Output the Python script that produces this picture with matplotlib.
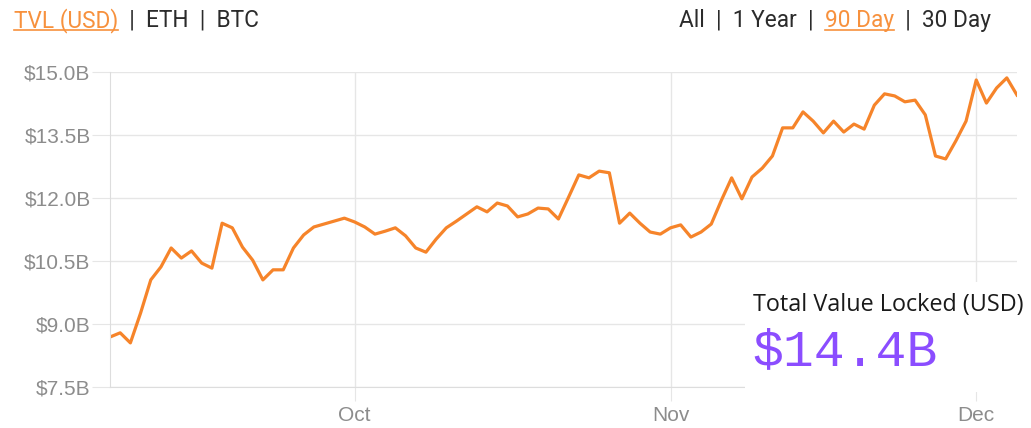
import matplotlib
matplotlib.use("Agg")
import matplotlib.pyplot as plt
from matplotlib.lines import Line2D
from matplotlib.patches import Rectangle
import pandas as pd

# daily TVL, 90 days (billions USD)
dates = pd.date_range("2020-09-07", periods=90, freq="D")
tvl = [8.69, 8.79, 8.55, 9.26, 10.05, 10.36, 10.81, 10.57, 10.74, 10.45,
       10.33, 11.40, 11.29, 10.83, 10.52, 10.05, 10.29, 10.29, 10.81, 11.12,
       11.31, 11.38, 11.45, 11.52, 11.43, 11.31, 11.14, 11.21, 11.29, 11.10,
       10.81, 10.71, 11.02, 11.29, 11.45, 11.62, 11.79, 11.67, 11.88, 11.81,
       11.55, 11.62, 11.76, 11.74, 11.50, 12.02, 12.55, 12.48, 12.64, 12.60,
       11.40, 11.64, 11.40, 11.19, 11.14, 11.29, 11.36, 11.07, 11.19, 11.38,
       11.95, 12.48, 11.98, 12.50, 12.71, 13.00, 13.67, 13.67, 14.05, 13.83,
       13.55, 13.83, 13.57, 13.76, 13.64, 14.21, 14.48, 14.43, 14.29, 14.33,
       13.98, 13.00, 12.93, 13.36, 13.83, 14.81, 14.26, 14.62, 14.86, 14.45]
y_ticks = [7.5, 9.0, 10.5, 12.0, 13.5, 15.0]
month_ticks = pd.to_datetime(["2020-10-01", "2020-11-01", "2020-12-01"])
month_labels = ["Oct", "Nov", "Dec"]
current_value = "$14.4B"

ORANGE = "#f6842a"
LINK = "#f7913d"
DARK = "#2b2b2b"
PURPLE = "#8b4dff"
GRID = "#e6e6e6"

W, H = 1031, 428
fig = plt.figure(figsize=(W / 100, H / 100), dpi=100)
ax = fig.add_axes([110 / W, 1 - 387 / H, 907 / W, 315 / H])

ax.plot(dates, tvl, color=ORANGE, lw=2.3)
ax.set_xlim(dates[0], dates[-1])
ax.set_ylim(7.5, 15.0)

ax.set_yticks(y_ticks)
ax.set_yticklabels([f"${v:.1f}B" for v in y_ticks], family="Liberation Sans", fontsize=15)
ax.set_xticks(month_ticks)
ax.set_xticklabels(month_labels, family="Liberation Sans", fontsize=15)
ax.grid(color=GRID, lw=1)
ax.set_axisbelow(True)
for side in ["top", "right"]:
    ax.spines[side].set_visible(False)
for side in ["left", "bottom"]:
    ax.spines[side].set_color("#dddddd")
ax.tick_params(axis="y", color=GRID, length=13, pad=1, labelcolor="#8c8c8c")
ax.tick_params(axis="x", color=GRID, length=10, pad=4, labelcolor="#8c8c8c")

# white panel behind the current value
fig.add_artist(Rectangle((745 / W, 1 - 392 / H), (W - 745) / W, (392 - 282) / H,
                         transform=fig.transFigure, fc="white", ec="none", zorder=5))
fig.text(753 / W, 1 - 311 / H, "Total Value Locked (USD)", fontsize=16.8,
         family="Open Sans", color="#1a1a1a", zorder=6)
fig.text(752 / W, 1 - 365 / H, current_value, fontsize=37,
         family="Liberation Mono", color=PURPLE, zorder=6)

# header links
renderer = fig.canvas.get_renderer()


def header(pieces, x0, base):
    x = x0
    for s, c, ul in pieces:
        t = fig.text(x / W, 1 - base / H, s, color=c, fontsize=16.3, family="Roboto")
        bb = t.get_window_extent(renderer)
        if ul:
            fig.add_artist(Line2D([bb.x0 / W, bb.x1 / W], [1 - (base + 2.5) / H] * 2,
                                  transform=fig.transFigure, color=c, lw=1.2))
        x = bb.x1
    return x


header([("TVL (USD)", LINK, True), ("  |  ETH  |  BTC", DARK, False)], 14, 27)
header([("All  |  1 Year  |  ", DARK, False), ("90 Day", LINK, True),
        ("  |  30 Day", DARK, False)], 679, 27)

fig.savefig("out.png", dpi=100)
